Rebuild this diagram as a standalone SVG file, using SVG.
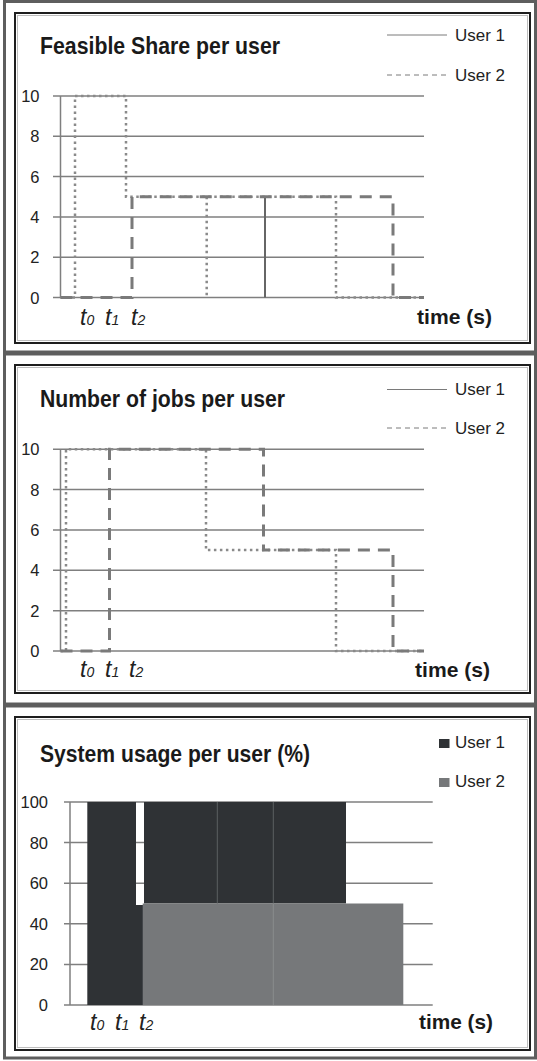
<svg xmlns="http://www.w3.org/2000/svg" width="537" height="1061" viewBox="0 0 537 1061">
  <style>
    .outer { fill: none; stroke: #5e5e5e; stroke-width: 3; }
    .inner { fill: none; stroke: #1e1e1e; stroke-width: 2; }
    .shade { fill: none; stroke: #bdbdbd; stroke-width: 1; }
    .grid { stroke: #7f7f7f; stroke-width: 1.5; fill: none; }
    .u1 { fill: none; stroke: #8a8a8a; stroke-width: 2.5; stroke-dasharray: 2.5 3.5; }
    .u2 { fill: none; stroke: #7a7a7a; stroke-width: 3; stroke-dasharray: 12 8; }
    .u1s { fill: none; stroke: #666; stroke-width: 2; }
    .key1 { stroke: #7a7a7a; stroke-width: 1; }
    .key2 { stroke: #7a7a7a; stroke-width: 1; stroke-dasharray: 5 4; }
    .title { font-family: "Liberation Sans", Arial, sans-serif; font-weight: bold; font-size: 23px; fill: #1a1a1a; }
    .leg { font-family: "Liberation Sans", Arial, sans-serif; font-size: 17px; fill: #222; }
    .tick { font-family: "Liberation Sans", Arial, sans-serif; font-size: 16.5px; fill: #222; text-anchor: end; }
    .xlab { font-family: "Liberation Sans", Arial, sans-serif; font-weight: bold; font-size: 21px; fill: #1a1a1a; }
    .tl { font-family: "Liberation Sans", Arial, sans-serif; font-style: italic; font-size: 23px; fill: #222; }
    .sub { font-size: 14px; }
    .bar1 { fill: #2f3235; }
    .bar2 { fill: #76787a; }
  </style>

  <!-- panel frames -->
  <g id="frames">
    <rect class="outer" x="4.5" y="1.5" width="531" height="350.5"/>
    <rect class="shade" x="17.5" y="15.5" width="510" height="325"/>
    <rect class="inner" x="15" y="13" width="515" height="330"/>

    <rect class="outer" x="4.5" y="354" width="531" height="350"/>
    <rect class="shade" x="17.5" y="367.5" width="510" height="323"/>
    <rect class="inner" x="15" y="365" width="515" height="328"/>

    <rect class="outer" x="4.5" y="706" width="531" height="352"/>
    <rect class="shade" x="17.5" y="719.5" width="510" height="328"/>
    <rect class="inner" x="15" y="717" width="515" height="333"/>
  </g>

  <!-- chart 1: feasible share -->
  <g id="chart-share">
    <text class="title" x="40" y="54" textLength="240" lengthAdjust="spacingAndGlyphs">Feasible Share per user</text>
    <line class="key1" x1="387" y1="35" x2="447" y2="35"/>
    <text class="leg" x="455" y="40.5" textLength="50" lengthAdjust="spacingAndGlyphs">User 1</text>
    <line class="key2" x1="387" y1="75" x2="447" y2="75"/>
    <text class="leg" x="455" y="80.5" textLength="50" lengthAdjust="spacingAndGlyphs">User 2</text>

    <g class="grid">
      <line x1="53" y1="96" x2="424" y2="96"/>
      <line x1="53" y1="136.3" x2="424" y2="136.3"/>
      <line x1="53" y1="176.6" x2="424" y2="176.6"/>
      <line x1="53" y1="216.9" x2="424" y2="216.9"/>
      <line x1="53" y1="257.2" x2="424" y2="257.2"/>
      <line x1="53" y1="297.5" x2="424" y2="297.5"/>
      <line x1="60.5" y1="96" x2="60.5" y2="297.5"/>
    </g>
    <text class="tick" x="39.5" y="102">10</text>
    <text class="tick" x="39.5" y="142.3">8</text>
    <text class="tick" x="39.5" y="182.6">6</text>
    <text class="tick" x="39.5" y="222.9">4</text>
    <text class="tick" x="39.5" y="263.2">2</text>
    <text class="tick" x="39.5" y="303.5">0</text>

    <path class="u1" d="M60.5 297.5 H75 V96 H126 V196.75 H336 V297.5 H424"/>
    <path class="u1" d="M206.7 196.75 V297.5"/>
    <path class="u1s" d="M265 196.75 V297.5"/>
    <path class="u2" d="M60.5 297.5 H132 V196.75 H393 V297.5 H424"/>

    <text class="tl" x="80" y="325">t<tspan class="sub">0</tspan></text>
    <text class="tl" x="105" y="325">t<tspan class="sub">1</tspan></text>
    <text class="tl" x="131" y="325">t<tspan class="sub">2</tspan></text>
    <text class="xlab" x="417" y="324" textLength="75" lengthAdjust="spacingAndGlyphs">time (s)</text>
  </g>

  <!-- chart 2: number of jobs -->
  <g id="chart-jobs">
    <text class="title" x="40" y="407" textLength="245" lengthAdjust="spacingAndGlyphs">Number of jobs per user</text>
    <line class="key1" x1="387" y1="389.5" x2="447" y2="389.5"/>
    <text class="leg" x="455" y="395" textLength="50" lengthAdjust="spacingAndGlyphs">User 1</text>
    <line class="key2" x1="387" y1="428" x2="447" y2="428"/>
    <text class="leg" x="455" y="433.5" textLength="50" lengthAdjust="spacingAndGlyphs">User 2</text>

    <g class="grid">
      <line x1="53" y1="449.25" x2="424" y2="449.25"/>
      <line x1="53" y1="489.6" x2="424" y2="489.6"/>
      <line x1="53" y1="529.95" x2="424" y2="529.95"/>
      <line x1="53" y1="570.3" x2="424" y2="570.3"/>
      <line x1="53" y1="610.65" x2="424" y2="610.65"/>
      <line x1="53" y1="651" x2="424" y2="651"/>
      <line x1="60.5" y1="449.25" x2="60.5" y2="651"/>
    </g>
    <text class="tick" x="39.5" y="455.25">10</text>
    <text class="tick" x="39.5" y="495.6">8</text>
    <text class="tick" x="39.5" y="535.95">6</text>
    <text class="tick" x="39.5" y="576.3">4</text>
    <text class="tick" x="39.5" y="616.65">2</text>
    <text class="tick" x="39.5" y="657">0</text>

    <path class="u1" d="M60.5 651 H66 V449.25 H206 V550.1 H336 V651 H424"/>
    <path class="u2" d="M60.5 651 H109.5 V449.25 H263.5 V550.1 H393 V651 H424"/>

    <text class="tl" x="80" y="677">t<tspan class="sub">0</tspan></text>
    <text class="tl" x="105" y="677">t<tspan class="sub">1</tspan></text>
    <text class="tl" x="129" y="677">t<tspan class="sub">2</tspan></text>
    <text class="xlab" x="415" y="677" textLength="75" lengthAdjust="spacingAndGlyphs">time (s)</text>
  </g>

  <!-- chart 3: system usage -->
  <g id="chart-usage">
    <text class="title" x="40" y="762" textLength="270" lengthAdjust="spacingAndGlyphs">System usage per user (%)</text>
    <rect class="bar1" x="439" y="739" width="10.5" height="9"/>
    <text class="leg" x="455" y="748" textLength="50" lengthAdjust="spacingAndGlyphs">User 1</text>
    <rect class="bar2" x="439" y="778" width="10.5" height="9"/>
    <text class="leg" x="455" y="787" textLength="50" lengthAdjust="spacingAndGlyphs">User 2</text>

    <g class="grid">
      <line x1="64" y1="802" x2="432.7" y2="802"/>
      <line x1="64" y1="842.6" x2="432.7" y2="842.6"/>
      <line x1="64" y1="883.2" x2="432.7" y2="883.2"/>
      <line x1="64" y1="923.8" x2="432.7" y2="923.8"/>
      <line x1="64" y1="964.4" x2="432.7" y2="964.4"/>
      <line x1="64" y1="1005" x2="432.7" y2="1005"/>
      <line x1="70" y1="802" x2="70" y2="1005"/>
    </g>
    <text class="tick" x="48" y="808">100</text>
    <text class="tick" x="48" y="848.6">80</text>
    <text class="tick" x="48" y="889.2">60</text>
    <text class="tick" x="48" y="929.8">40</text>
    <text class="tick" x="48" y="970.4">20</text>
    <text class="tick" x="48" y="1011">0</text>

    <rect class="bar1" x="87.3" y="802" width="48.7" height="203"/>
    <rect class="bar1" x="136" y="905" width="7" height="100"/>
    <rect class="bar1" x="144" y="802" width="202" height="101.5"/>
    <rect class="bar2" x="142.7" y="903.5" width="260.6" height="101.5"/>
    <line x1="217.3" y1="802" x2="217.3" y2="903.5" stroke="#5c5f62" stroke-width="1"/>
    <line x1="273.3" y1="802" x2="273.3" y2="903.5" stroke="#5c5f62" stroke-width="1"/>
    <line x1="273.3" y1="903.5" x2="273.3" y2="1005" stroke="#8a8c8e" stroke-width="1"/>

    <text class="tl" x="90" y="1030">t<tspan class="sub">0</tspan></text>
    <text class="tl" x="115" y="1030">t<tspan class="sub">1</tspan></text>
    <text class="tl" x="139" y="1030">t<tspan class="sub">2</tspan></text>
    <text class="xlab" x="419" y="1029" textLength="74" lengthAdjust="spacingAndGlyphs">time (s)</text>
  </g>
</svg>
